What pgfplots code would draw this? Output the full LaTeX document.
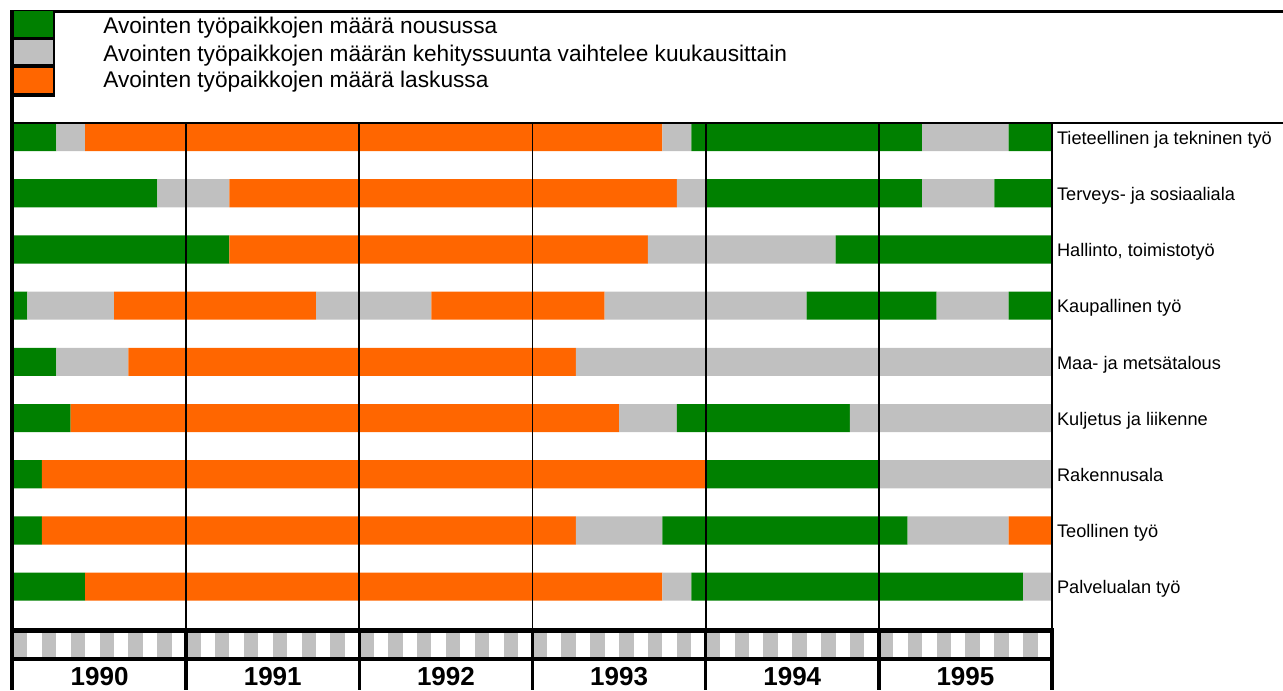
\documentclass[border=0pt]{standalone}
\usepackage{fontspec}
\setmainfont{Liberation Sans}
\usepackage{pgfplots}
\pgfplotsset{compat=1.18}
\definecolor{cG}{RGB}{0,128,0}
\definecolor{cY}{RGB}{192,192,192}
\definecolor{cO}{RGB}{255,102,0}
% \seg{start}{end}{top}{bottom}{colour}
\newcommand{\seg}[5]{\addplot[fill=#5,draw=none,forget plot] coordinates {(#1,#3) (#2,#3) (#2,#4) (#1,#4) (#1,#3)};}
\newcommand{\lfont}{\fontsize{17}{20}\selectfont}
\newcommand{\rfont}{\fontsize{13.65}{16}\selectfont}
\newcommand{\yfont}{\fontsize{19.5}{22}\selectfont\bfseries}
\begin{document}
\begin{tikzpicture}
\begin{axis}[
  width=962.25pt, height=517.5pt, scale only axis,
  xmin=-0.9009, xmax=88.007,
  ymin=-2.1886, ymax=10.089, y dir=reverse,
  hide axis, clip=true,
]
% Row 1: Tieteellinen ja tekninen tyo
\seg{0}{3}{0}{0.5}{cG}
\seg{3}{5}{0}{0.5}{cY}
\seg{5}{45}{0}{0.5}{cO}
\seg{45}{47}{0}{0.5}{cY}
\seg{47}{63}{0}{0.5}{cG}
\seg{63}{69}{0}{0.5}{cY}
\seg{69}{72}{0}{0.5}{cG}
% Row 2: Terveys- ja sosiaaliala
\seg{0}{10}{1}{1.5}{cG}
\seg{10}{15}{1}{1.5}{cY}
\seg{15}{46}{1}{1.5}{cO}
\seg{46}{48}{1}{1.5}{cY}
\seg{48}{63}{1}{1.5}{cG}
\seg{63}{68}{1}{1.5}{cY}
\seg{68}{72}{1}{1.5}{cG}
% Row 3: Hallinto, toimistotyo
\seg{0}{15}{2}{2.5}{cG}
\seg{15}{44}{2}{2.5}{cO}
\seg{44}{57}{2}{2.5}{cY}
\seg{57}{72}{2}{2.5}{cG}
% Row 4: Kaupallinen tyo
\seg{0}{1}{3}{3.5}{cG}
\seg{1}{7}{3}{3.5}{cY}
\seg{7}{21}{3}{3.5}{cO}
\seg{21}{29}{3}{3.5}{cY}
\seg{29}{41}{3}{3.5}{cO}
\seg{41}{55}{3}{3.5}{cY}
\seg{55}{64}{3}{3.5}{cG}
\seg{64}{69}{3}{3.5}{cY}
\seg{69}{72}{3}{3.5}{cG}
% Row 5: Maa- ja metsatalous
\seg{0}{3}{4}{4.5}{cG}
\seg{3}{8}{4}{4.5}{cY}
\seg{8}{39}{4}{4.5}{cO}
\seg{39}{72}{4}{4.5}{cY}
% Row 6: Kuljetus ja liikenne
\seg{0}{4}{5}{5.5}{cG}
\seg{4}{42}{5}{5.5}{cO}
\seg{42}{46}{5}{5.5}{cY}
\seg{46}{58}{5}{5.5}{cG}
\seg{58}{72}{5}{5.5}{cY}
% Row 7: Rakennusala
\seg{0}{2}{6}{6.5}{cG}
\seg{2}{48}{6}{6.5}{cO}
\seg{48}{60}{6}{6.5}{cG}
\seg{60}{72}{6}{6.5}{cY}
% Row 8: Teollinen tyo
\seg{0}{2}{7}{7.5}{cG}
\seg{2}{39}{7}{7.5}{cO}
\seg{39}{45}{7}{7.5}{cY}
\seg{45}{62}{7}{7.5}{cG}
\seg{62}{69}{7}{7.5}{cY}
\seg{69}{72}{7}{7.5}{cO}
% Row 9: Palvelualan tyo
\seg{0}{5}{8}{8.5}{cG}
\seg{5}{45}{8}{8.5}{cO}
\seg{45}{47}{8}{8.5}{cY}
\seg{47}{70}{8}{8.5}{cG}
\seg{70}{72}{8}{8.5}{cY}

% month stripes
\draw[cY, line width=18pt, dash pattern=on 10.823pt off 10.823pt] (axis cs:0,9.285) -- (axis cs:72,9.285);

% year lines
\foreach \xx in {12,24,36,48,60,72} {
  \edef\temp{\noexpand\draw[black, line width=1.3pt] (axis cs:\xx,0) -- (axis cs:\xx,9.03);
  \noexpand\draw[black, line width=2.6pt] (axis cs:\xx,9.03) -- (axis cs:\xx,10.089);}
  \temp
}
\draw[black, line width=3.2pt] (axis cs:-0.069,9.03) -- (axis cs:72.15,9.03);
\draw[black, line width=3.2pt] (axis cs:-0.069,9.537) -- (axis cs:72.15,9.537);

% frame
\draw[black, line width=1.9pt] (axis cs:-0.069,0) -- (axis cs:88.007,0);
\draw[black, line width=2pt] (axis cs:-0.2,-1.988) -- (axis cs:88.007,-1.988);

% legend swatches
\fill[cG] (axis cs:-0.069,-1.988) rectangle (axis cs:2.84,-1.507);
\fill[cY] (axis cs:-0.069,-1.507) rectangle (axis cs:2.84,-1.014);
\fill[cO] (axis cs:-0.069,-1.014) rectangle (axis cs:2.84,-0.504);
\draw[black, line width=2.5pt] (axis cs:-0.069,-1.507) -- (axis cs:2.9,-1.507);
\draw[black, line width=2.5pt] (axis cs:-0.069,-1.014) -- (axis cs:2.9,-1.014);
\draw[black, line width=3pt] (axis cs:-0.069,-0.504) -- (axis cs:2.9,-0.504);
\draw[black, line width=1.5pt] (axis cs:2.84,-1.988) -- (axis cs:2.84,-0.468);
\draw[black, line width=3pt] (axis cs:-0.069,-2.01) -- (axis cs:-0.069,10.089);

% legend texts
\node[anchor=base west, inner sep=0pt, font=\lfont] at (axis cs:6.24,-1.596) {Avointen työpaikkojen määrä nousussa};
\node[anchor=base west, inner sep=0pt, font=\lfont] at (axis cs:6.24,-1.103) {Avointen työpaikkojen määrän kehityssuunta vaihtelee kuukausittain};
\node[anchor=base west, inner sep=0pt, font=\lfont] at (axis cs:6.24,-0.628) {Avointen työpaikkojen määrä laskussa};

% row labels
\node[anchor=base west, inner sep=0pt, font=\rfont] at (axis cs:72.33,0.379) {Tieteellinen ja tekninen työ};
\node[anchor=base west, inner sep=0pt, font=\rfont] at (axis cs:72.33,1.379) {Terveys- ja sosiaaliala};
\node[anchor=base west, inner sep=0pt, font=\rfont] at (axis cs:72.33,2.379) {Hallinto, toimistotyö};
\node[anchor=base west, inner sep=0pt, font=\rfont] at (axis cs:72.33,3.379) {Kaupallinen työ};
\node[anchor=base west, inner sep=0pt, font=\rfont] at (axis cs:72.33,4.379) {Maa- ja metsätalous};
\node[anchor=base west, inner sep=0pt, font=\rfont] at (axis cs:72.33,5.379) {Kuljetus ja liikenne};
\node[anchor=base west, inner sep=0pt, font=\rfont] at (axis cs:72.33,6.379) {Rakennusala};
\node[anchor=base west, inner sep=0pt, font=\rfont] at (axis cs:72.33,7.379) {Teollinen työ};
\node[anchor=base west, inner sep=0pt, font=\rfont] at (axis cs:72.33,8.379) {Palvelualan työ};

% year labels
\node[anchor=base, inner sep=0pt, font=\yfont] at (axis cs:6,10.0) {1990};
\node[anchor=base, inner sep=0pt, font=\yfont] at (axis cs:18,10.0) {1991};
\node[anchor=base, inner sep=0pt, font=\yfont] at (axis cs:30,10.0) {1992};
\node[anchor=base, inner sep=0pt, font=\yfont] at (axis cs:42,10.0) {1993};
\node[anchor=base, inner sep=0pt, font=\yfont] at (axis cs:54,10.0) {1994};
\node[anchor=base, inner sep=0pt, font=\yfont] at (axis cs:66,10.0) {1995};
\end{axis}
\pgfresetboundingbox
\useasboundingbox (current axis.south west) rectangle (current axis.north east);
\end{tikzpicture}
\end{document}
